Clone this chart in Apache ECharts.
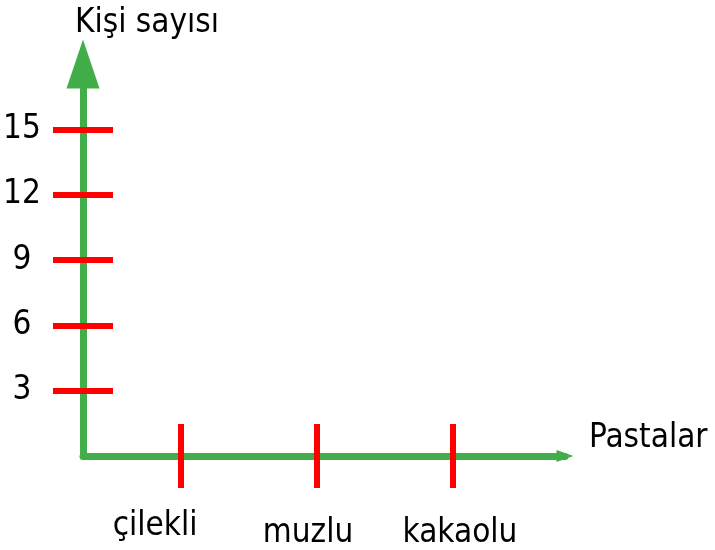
<!DOCTYPE html>
<html>
<head>
<meta charset="utf-8">
<script src="https://cdn.jsdelivr.net/npm/echarts@6/dist/echarts.min.js"></script>
<style>html,body{margin:0;padding:0;background:#fff;}#c{width:715px;height:550px;}</style>
</head>
<body>
<div id="c"></div>
<script>
// ---- data ----
const yTitle = 'Kişi sayısı';
const xTitle = 'Pastalar';
const yTicks = [3, 6, 9, 12, 15];
const xCategories = ['çilekli', 'muzlu', 'kakaolu'];
const xTickValues = [1, 2, 3];

// ---- styles ----
const FONT = '"DejaVu Sans Condensed", "Liberation Sans Narrow", "Liberation Sans", sans-serif';
const GREEN = '#42ae4a';
const RED = '#ff0000';
const FS = 33;
const labelRich = {
  c0: { fontSize: FS, fontFamily: FONT, color: '#000', padding: [0, 52, 0, 0] },
  c1: { fontSize: FS, fontFamily: FONT, color: '#000', padding: [7, 18, 0, 0] },
  c2: { fontSize: FS, fontFamily: FONT, color: '#000', padding: [7, 0, 0, 14] }
};

const chart = echarts.init(document.getElementById('c'), null, { renderer: 'canvas' });

const xCommon = { type: 'value', min: 0.279, max: 3.824, splitLine: { show: false } };
const yCommon = { type: 'value', min: 0, max: 18, splitLine: { show: false } };

chart.setOption({
  animation: false,
  backgroundColor: '#fff',
  title: [
    { text: yTitle, left: 75, top: 7, padding: 0, textStyle: { fontSize: FS, fontWeight: 'normal', fontFamily: FONT, color: '#000' } },
    { text: xTitle, left: 589, top: 422, padding: 0, textStyle: { fontSize: FS, fontWeight: 'normal', fontFamily: FONT, color: '#000' } }
  ],
  grid: { left: 83, right: 150, top: 64, bottom: 91, containLabel: false },
  xAxis: [
    Object.assign({}, xCommon, {
      position: 'bottom',
      axisLine: { show: true, onZero: false, symbol: ['none', 'triangle'], symbolSize: [12, 17], lineStyle: { color: GREEN, width: 7 } },
      axisTick: { show: true, customValues: xTickValues, length: 32, inside: false, lineStyle: { color: RED, width: 6 } },
      axisLabel: {
        show: true, customValues: xTickValues, margin: 54,
        fontSize: FS, fontFamily: FONT, color: '#000',
        formatter: function (v) { const i = xTickValues.indexOf(v); return i < 0 ? '' : '{c' + i + '|' + xCategories[i] + '}'; },
        rich: labelRich
      }
    }),
    Object.assign({}, xCommon, {
      position: 'bottom',
      axisLine: { show: false, onZero: false },
      axisTick: { show: true, customValues: xTickValues, length: 32, inside: true, lineStyle: { color: RED, width: 6 } },
      axisLabel: { show: false }
    })
  ],
  yAxis: [
    Object.assign({}, yCommon, {
      position: 'left',
      axisLine: { show: true, onZero: false, symbol: ['none', 'triangle'], symbolSize: [33, 49], lineStyle: { color: GREEN, width: 7 } },
      axisTick: { show: true, customValues: yTicks, length: 30, inside: false, lineStyle: { color: RED, width: 6 } },
      axisLabel: {
        show: true, customValues: yTicks, margin: 61, align: 'center',
        fontSize: FS, fontFamily: FONT, color: '#000',
        formatter: function (v) { return String(v); }
      }
    }),
    Object.assign({}, yCommon, {
      position: 'left',
      axisLine: { show: false, onZero: false },
      axisTick: { show: true, customValues: yTicks, length: 30, inside: true, lineStyle: { color: RED, width: 6 } },
      axisLabel: { show: false }
    })
  ],
  series: []
});
</script>
</body>
</html>
